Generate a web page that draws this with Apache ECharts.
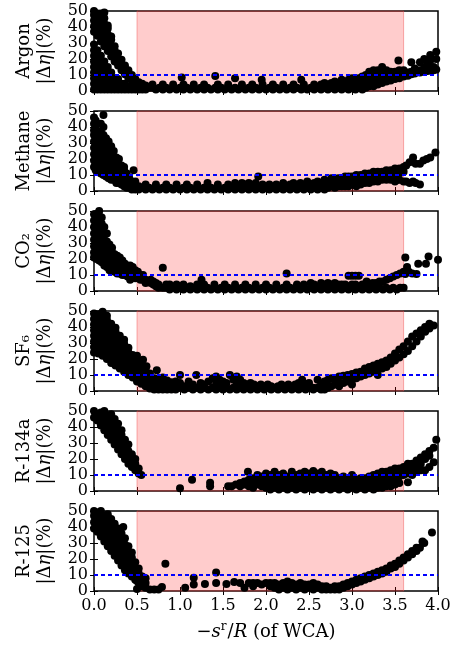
<!DOCTYPE html>
<html>
<head>
<meta charset="utf-8">
<title>|Δη| vs -s^r/R</title>
<script src="https://cdn.jsdelivr.net/npm/echarts@6/dist/echarts.min.js"></script>
<style>
  html, body { margin: 0; background: #fff; }
  #chart { width: 457px; height: 653px; }
</style>
</head>
<body>
<div id="chart"></div>
<script>
// panel names (top to bottom)
var gasNames = ['Argon', 'Methane', 'CO₂', 'SF₆', 'R-134a', 'R-125'];
var xMin = 0, xMax = 4, xStep = 0.5;
var yMin = 0, yMax = 50, yStep = 10;
var shadeFrom = 0.5, shadeTo = 3.6;   // pink band (WCA range)
var threshold = 10;                   // blue dashed line

// each row: [x, y1, y2, ...]  (|Δη| in %)
var argon = [
  [0.00, 1, 4.5, 8, 11.5, 15, 18.5, 22, 25.5, 29, 37, 40.5, 44, 47.5, 50],
  [0.04, 1, 4.5, 8, 11.5, 15, 18.5, 22, 25.5, 34.5, 38, 41.5, 45, 48.5],
  [0.08, 1, 4.5, 8, 11.5, 15, 18.5, 22, 31, 34.5, 38, 41.5, 45, 48.5],
  [0.12, 1, 4.5, 8, 11.5, 15, 18.5, 28, 31.5, 35, 38.5, 42, 45.5, 49],
  [0.16, 1, 4.5, 8, 11.5, 15, 25, 28.5, 32, 35.5, 39, 41],
  [0.20, 1, 4.5, 8, 11.5, 21.5, 25, 28.5, 32, 34],
  [0.24, 1, 4.5, 8, 18.5, 22, 25.5, 28],
  [0.28, 1, 4.5, 7.5, 16, 19.5, 23.5],
  [0.32, 1, 4.5, 13, 16.5, 19.5],
  [0.36, 1, 4.5, 10.5, 14, 16],
  [0.40, 1, 8, 11, 13], [0.44, 1, 4, 7, 10], [0.48, 1, 4, 7.5],
  [0.52, 1, 3.5, 5.5], [0.56, 1, 3, 4.5], [0.60, 1, 3.5],
  [0.64, 2], [0.68, 2, 4], [0.72, 1], [0.76, 2], [0.80, 1, 4], [0.84, 2], [0.88, 1],
  [0.92, 2, 4], [0.96, 1], [1.00, 2], [1.02, 8.5], [1.04, 1, 4], [1.08, 2], [1.12, 1],
  [1.16, 2, 4], [1.20, 1], [1.24, 2], [1.28, 1, 4], [1.32, 2], [1.36, 1], [1.41, 9.4, 2],
  [1.44, 1, 4], [1.48, 2], [1.52, 1], [1.56, 2, 4], [1.60, 1], [1.64, 2, 8], [1.68, 1],
  [1.72, 2, 4], [1.76, 1], [1.80, 2], [1.84, 1, 4], [1.88, 2], [1.92, 1], [1.95, 7],
  [1.96, 2, 4], [2.00, 1], [2.04, 2], [2.08, 1, 4], [2.12, 2], [2.16, 1], [2.20, 2, 4],
  [2.24, 1], [2.28, 2], [2.32, 1, 4], [2.36, 2], [2.41, 7, 1], [2.44, 2, 4], [2.48, 1],
  [2.52, 2], [2.56, 1, 4], [2.60, 2], [2.64, 1, 4], [2.68, 2, 5], [2.72, 1, 4], [2.76, 2, 5],
  [2.80, 1, 3, 6], [2.84, 2, 5], [2.88, 1, 4, 7], [2.92, 2, 5], [2.96, 1, 4, 7], [3.00, 2, 5, 8],
  [3.04, 1, 4, 7], [3.08, 2, 5, 8], [3.12, 1, 4, 7, 9], [3.16, 2, 5, 8, 10], [3.20, 3, 6, 9, 12],
  [3.25, 3, 5, 8, 11, 13], [3.30, 4, 7, 10, 13], [3.35, 5, 8, 11, 15], [3.40, 6, 8, 11, 13],
  [3.45, 6.5, 9, 12], [3.50, 7.5, 10, 12], [3.52, 12], [3.54, 19], [3.55, 8, 10.5, 13],
  [3.60, 9, 11, 13], [3.65, 9.5, 11.5], [3.69, 10.5, 12, 18], [3.73, 11, 14], [3.79, 11.5, 13, 18],
  [3.84, 12, 15, 20], [3.88, 12.5, 14, 17], [3.91, 13, 19, 22.5], [3.95, 13, 15], [3.98, 13.5, 20, 24.5]
];

var methane = [
  [0.00, 15, 19, 23, 27, 31, 35, 38, 42, 46], [0.02, 13, 17, 21, 25, 29, 33, 40, 44],
  [0.05, 12, 16, 20, 24, 30, 36], [0.08, 11, 15, 19, 23, 28, 33, 37, 42],
  [0.11, 10, 14, 18, 22, 27, 31, 35, 40, 47.5], [0.14, 9, 13, 17, 21, 25, 29, 33],
  [0.17, 8, 12, 16, 20, 24, 27, 31], [0.20, 7, 10, 14, 18, 22, 28], [0.23, 7, 11, 15, 19, 25],
  [0.26, 5, 9, 13, 17, 21], [0.29, 5, 8, 12, 16, 20], [0.32, 4, 7, 11, 16],
  [0.35, 3, 6, 9, 13, 15], [0.38, 2, 5, 8, 11], [0.41, 2, 5, 8], [0.44, 1, 4, 6],
  [0.46, 13], [0.48, 1, 3, 6],
  [0.52, 1, 3], [0.56, 2], [0.60, 1, 4], [0.64, 2], [0.68, 1], [0.72, 2, 4], [0.76, 1],
  [0.80, 2], [0.84, 1, 4], [0.88, 2], [0.92, 1], [0.96, 2, 4], [1.00, 1], [1.04, 2],
  [1.08, 1, 4], [1.12, 2], [1.16, 1], [1.20, 2, 4], [1.24, 1], [1.28, 2], [1.32, 1, 5],
  [1.36, 2], [1.40, 1], [1.44, 2, 4], [1.48, 1], [1.52, 2], [1.56, 1, 4], [1.60, 2],
  [1.64, 1, 5], [1.68, 2], [1.72, 1, 5], [1.76, 2, 4], [1.80, 1, 5], [1.84, 2], [1.88, 1, 5],
  [1.91, 9], [1.92, 2], [1.96, 1, 4], [2.00, 2], [2.04, 1, 4], [2.08, 2], [2.12, 1, 4],
  [2.16, 2], [2.20, 1, 5], [2.24, 2], [2.28, 1, 4], [2.32, 2, 5], [2.36, 1], [2.40, 2, 5],
  [2.44, 1, 4], [2.48, 2, 6], [2.52, 1, 4], [2.56, 2, 5], [2.60, 1, 4, 6], [2.64, 2, 5],
  [2.68, 1, 4, 7], [2.72, 2, 5], [2.76, 3, 6, 8], [2.80, 2, 5], [2.84, 3, 6, 8], [2.88, 3, 5, 8],
  [2.92, 3, 6, 9], [2.96, 3, 6, 9], [3.00, 4, 7, 9], [3.05, 3, 6, 10], [3.10, 4, 7, 10],
  [3.15, 5, 8, 11], [3.20, 5, 8, 11], [3.25, 6, 9, 12], [3.30, 6, 9, 12], [3.35, 7, 10, 12],
  [3.40, 7, 10, 13], [3.45, 7, 10, 13], [3.50, 6, 9, 12, 14], [3.53, 7], [3.55, 7, 11, 14],
  [3.60, 6, 12, 15], [3.63, 6, 16], [3.67, 5, 18], [3.71, 6, 21], [3.74, 5, 17], [3.79, 4, 17],
  [3.83, 19], [3.87, 20], [3.91, 21], [3.97, 24]
];

var co2 = [
  [0.00, 21, 24, 28, 32, 36, 40, 44, 48], [0.03, 20, 24, 28, 32, 36, 40, 44, 48],
  [0.06, 19, 23, 27, 31, 35, 39, 43, 47, 50], [0.09, 18, 22, 26, 30, 34, 38, 42, 46],
  [0.12, 16, 20, 24, 28, 32, 36, 40], [0.15, 15, 19, 23, 27, 31, 36], [0.18, 13, 17, 21, 25, 29],
  [0.21, 13, 16, 20, 24, 27], [0.24, 12, 15, 19, 23], [0.27, 11, 14, 18, 22], [0.30, 11, 14, 18, 21],
  [0.33, 10, 13, 16, 19], [0.36, 10, 13, 17], [0.39, 9, 12, 15], [0.42, 7, 11, 14, 16],
  [0.45, 9, 12, 15], [0.48, 8, 11, 13], [0.51, 8, 12], [0.54, 7, 10], [0.57, 7, 10],
  [0.60, 5, 7], [0.63, 6], [0.66, 5, 7], [0.69, 4, 6], [0.72, 3, 5], [0.75, 2, 4],
  [0.80, 2, 14.6], [0.84, 2, 4], [0.88, 1, 4], [0.92, 2], [0.96, 1, 4], [1.00, 2], [1.04, 1, 4],
  [1.08, 2], [1.12, 1, 3], [1.16, 2], [1.20, 1, 4], [1.25, 2, 7], [1.28, 1, 4], [1.32, 2],
  [1.36, 1], [1.40, 2, 4], [1.44, 1], [1.48, 2], [1.52, 1, 4], [1.56, 2], [1.60, 1], [1.64, 2, 4],
  [1.68, 1], [1.72, 2], [1.76, 1, 4], [1.80, 2], [1.84, 1], [1.88, 2, 4], [1.92, 1], [1.96, 2],
  [2.00, 1, 4], [2.04, 2], [2.08, 1], [2.12, 2, 4], [2.16, 1], [2.20, 2], [2.24, 1, 4, 11],
  [2.28, 2], [2.32, 1], [2.36, 2, 4], [2.40, 1], [2.44, 2, 4], [2.48, 1], [2.52, 2, 5],
  [2.56, 1, 4], [2.60, 2], [2.64, 1, 5], [2.68, 2, 4], [2.72, 1, 5], [2.76, 2, 4], [2.80, 1, 5],
  [2.84, 2, 4], [2.88, 1, 4], [2.92, 2, 4], [2.96, 1, 3, 9.6], [3.00, 2, 4, 9.5], [3.04, 1, 4, 9.5],
  [3.08, 2, 9.5], [3.12, 1, 4], [3.17, 2, 6], [3.20, 1, 4], [3.24, 2, 5], [3.28, 1, 5],
  [3.32, 2, 6], [3.36, 1, 6], [3.40, 2, 7], [3.44, 1, 8], [3.48, 2, 9], [3.52, 1, 10],
  [3.56, 2, 11], [3.60, 2, 12], [3.62, 10.6, 21], [3.64, 15], [3.66, 12], [3.70, 11],
  [3.75, 10.6], [3.77, 17], [3.86, 17], [3.89, 21.5], [4.00, 19.5]
];

var sf6 = [
  [0.00, 24, 27.5, 31, 34.5, 38, 41.5, 45, 48.5], [0.05, 23.5, 27, 30.5, 34, 37.5, 41, 44.5, 48],
  [0.10, 22, 25.5, 29, 32.5, 36, 39.5, 43, 46.5, 49.5], [0.15, 20, 23.5, 27, 30.5, 34, 37.5, 41, 44.5, 47],
  [0.20, 17.5, 21, 24.5, 28, 31.5, 35, 38.5, 42], [0.25, 16, 19.5, 23, 26.5, 30, 33.5, 37, 39.5],
  [0.30, 14, 17.5, 21, 24.5, 28, 31.5, 34.5], [0.35, 12, 15.5, 19, 22.5, 26, 29.5, 32],
  [0.40, 10, 13.5, 17, 20.5, 24, 27], [0.45, 8.5, 12, 15.5, 19, 22.5], [0.50, 6, 9.5, 13, 16.5, 19, 22],
  [0.55, 4.5, 8, 11.5, 15, 17], [0.57, 19.5], [0.60, 3, 6.5, 10, 13], [0.61, 15.5],
  [0.65, 1.5, 5, 8.5, 11], [0.70, 1, 4.5, 8], [0.73, 13], [0.75, 1, 4.5, 7.5], [0.80, 1, 4.5, 8.5],
  [0.85, 1, 4, 6.5], [0.90, 1, 3.5, 5.5],
  [0.95, 1, 3, 6], [1.00, 2, 5, 10], [1.05, 1, 3], [1.10, 2, 6], [1.15, 1, 4], [1.19, 2, 10],
  [1.24, 1, 5], [1.28, 2, 4], [1.33, 1, 6], [1.38, 2, 8], [1.42, 1, 5, 9], [1.46, 2, 7],
  [1.50, 1, 4, 6], [1.54, 2, 5], [1.58, 1, 10], [1.62, 2, 7], [1.66, 1, 4, 9], [1.70, 2, 7],
  [1.74, 1, 5], [1.78, 2, 4], [1.82, 1, 5], [1.86, 2, 4], [1.90, 1, 3], [1.94, 2, 4], [1.98, 1, 3],
  [2.02, 2, 4], [2.06, 1, 3], [2.10, 2], [2.14, 1, 3], [2.18, 2, 4], [2.22, 1], [2.26, 2, 4],
  [2.30, 1], [2.34, 2, 4], [2.38, 1, 5], [2.42, 2, 7], [2.46, 1, 4], [2.50, 2, 5], [2.55, 1, 2],
  [2.60, 2, 7], [2.64, 1, 4], [2.68, 1, 6],
  [2.72, 2, 3, 7], [2.76, 3, 8], [2.80, 4, 8], [2.85, 3, 5, 9], [2.90, 5, 9.5], [2.95, 6, 10],
  [3.00, 4, 7, 10.6], [3.05, 8, 11.5], [3.10, 9, 12], [3.15, 10, 14], [3.20, 11, 15],
  [3.25, 12, 16], [3.30, 10, 13, 17], [3.35, 14, 18], [3.40, 15, 19], [3.45, 17, 21],
  [3.50, 19, 23.5], [3.55, 21, 26], [3.60, 23, 28], [3.65, 25, 31], [3.70, 28, 34],
  [3.75, 31, 36], [3.80, 34, 38], [3.85, 37, 40], [3.90, 39, 42], [3.95, 41]
];

var r134a = [
  [0.00, 46, 50], [0.04, 44, 48], [0.08, 41, 45, 49], [0.12, 38, 42, 46, 50],
  [0.16, 35, 39, 43, 47], [0.20, 32, 36, 40, 44, 48], [0.24, 29, 33, 37, 41, 45],
  [0.28, 26, 30, 34, 38, 42], [0.32, 23, 27, 31, 35, 38], [0.36, 20, 24, 28, 32],
  [0.40, 17, 21, 25, 29], [0.44, 15, 19, 23], [0.48, 13, 17, 20], [0.52, 11, 14], [0.55, 10],
  [1.00, 1.7], [1.14, 7], [1.35, 3, 5.2], [1.56, 3],
  [1.60, 3], [1.65, 4], [1.70, 3, 5], [1.75, 4, 6], [1.79, 12], [1.80, 3, 7], [1.85, 2, 5, 8],
  [1.90, 4, 7, 10], [1.95, 3, 6, 9], [2.00, 2, 5, 8, 11], [2.05, 1, 4, 7, 10], [2.10, 2, 5, 8, 12],
  [2.15, 1, 4, 7, 10], [2.20, 2, 5, 9, 11], [2.25, 1, 3, 6, 9], [2.30, 2, 5, 8, 12],
  [2.35, 1, 4, 7, 10], [2.40, 2, 5, 8, 11], [2.45, 1, 3, 6, 9, 12], [2.50, 2, 5, 8, 11],
  [2.55, 1, 4, 7, 12.5], [2.60, 2, 5, 8, 11], [2.65, 1, 3, 6, 9, 12], [2.70, 2, 4, 7, 10],
  [2.75, 1, 3, 6, 9, 11], [2.80, 2, 4, 7, 10], [2.85, 1, 3, 5, 8], [2.90, 2, 4, 6, 9],
  [2.95, 1, 3, 5, 8], [3.00, 2, 4, 6, 10], [3.05, 1, 3, 5, 7], [3.10, 2, 4, 6, 8],
  [3.15, 1, 3, 5, 8], [3.20, 2, 4, 6, 9], [3.25, 1, 3, 6, 10], [3.30, 2, 4, 7, 11],
  [3.35, 2, 5, 8, 10, 12], [3.40, 3, 6, 9, 12], [3.45, 3, 7, 10, 13], [3.50, 4, 8, 11, 14],
  [3.55, 5, 9, 12, 14], [3.60, 10, 13, 15], [3.65, 5.5, 11, 15, 17], [3.70, 10, 13, 17],
  [3.75, 12, 16, 19], [3.80, 13, 17, 21], [3.85, 13, 20, 23], [3.90, 15, 22, 25],
  [3.95, 18, 27], [3.98, 32]
];

var r125 = [
  [0.00, 39, 43, 47, 50], [0.04, 37, 41, 45, 49], [0.08, 34, 38, 42, 46, 50],
  [0.12, 31, 35, 39, 43, 47], [0.16, 28, 32, 36, 40, 44, 48], [0.20, 25, 29, 33, 37, 41, 45],
  [0.24, 22, 26, 30, 34, 38, 40, 42], [0.28, 19, 23, 27, 31, 35, 39], [0.32, 16, 20, 24, 28, 32, 36],
  [0.34, 40], [0.36, 13, 17, 21, 25, 29, 33], [0.40, 11, 15, 19, 23, 28], [0.44, 9, 13, 17, 21, 24],
  [0.48, 7, 10, 14, 18], [0.50, 1.2, 6.2], [0.52, 5, 8, 11, 14], [0.56, 3, 6, 9], [0.60, 2, 5, 8],
  [0.65, 1], [0.70, 1], [0.75, 1], [0.79, 2.5], [0.83, 17],
  [1.06, 2], [1.16, 4, 8.3], [1.29, 4.4], [1.42, 5, 11.5], [1.54, 4.4], [1.63, 5.6], [1.70, 5],
  [1.75, 2], [1.80, 5], [1.85, 3, 5], [1.90, 5], [1.95, 4], [2.00, 5], [2.05, 3, 5], [2.10, 2, 5],
  [2.15, 1, 4], [2.20, 2, 5], [2.25, 1, 4, 6], [2.30, 2, 5], [2.35, 1, 4], [2.40, 2, 5],
  [2.45, 1, 4], [2.50, 2, 4], [2.55, 1, 3, 5], [2.60, 2, 4], [2.65, 1, 3], [2.70, 1, 3],
  [2.75, 1, 2], [2.80, 1, 3], [2.85, 1, 3], [2.90, 2, 4], [2.95, 3, 5], [3.00, 4, 6], [3.05, 5, 7],
  [3.10, 6, 8], [3.15, 7, 9], [3.20, 8, 10], [3.25, 9, 11], [3.30, 10, 12], [3.35, 11, 13],
  [3.40, 12, 14], [3.45, 14, 16], [3.50, 15, 17], [3.55, 17, 19], [3.60, 19, 21], [3.65, 21, 23],
  [3.70, 23, 25], [3.75, 25, 27], [3.79, 27], [3.82, 31], [3.84, 30], [3.93, 36.5]
];

var panels = [argon, methane, co2, sf6, r134a, r125];

function toPoints(rows) {
  var pts = [];
  rows.forEach(function (r) {
    for (var k = 1; k < r.length; k++) pts.push([r[0], r[k]]);
  });
  return pts;
}

var serif = 'DejaVu Serif';
var tick = { inside: true, length: 4, lineStyle: { color: '#000', width: 1 } };
var grids = [], xAxes = [], yAxes = [], series = [];

panels.forEach(function (rows, i) {
  var last = i === panels.length - 1;
  grids.push({
    left: 94, width: 344, top: 11 + 100 * i, height: 80,
    show: true, borderColor: '#000', borderWidth: 1.5, backgroundColor: 'transparent'
  });
  xAxes.push({
    gridIndex: i, type: 'value', position: 'bottom', min: xMin, max: xMax, interval: xStep,
    axisLine: { show: false }, splitLine: { show: false }, axisTick: tick,
    axisLabel: {
      show: last, margin: 7, color: '#000', fontFamily: serif, fontSize: 16,
      formatter: function (v) { return v.toFixed(1); }
    },
    name: last ? '−{i|s}{sup|r}/{i|R} (of WCA)' : '',
    nameLocation: 'middle', nameGap: 30,
    nameTextStyle: {
      color: '#000', fontFamily: serif, fontSize: 18,
      rich: {
        i: { fontFamily: serif, fontSize: 18, fontStyle: 'italic', color: '#000' },
        sup: { fontFamily: serif, fontSize: 12, color: '#000', padding: [0, 1, 10, 0] }
      }
    }
  });
  xAxes.push({
    gridIndex: i, type: 'value', position: 'top', min: xMin, max: xMax, interval: xStep,
    axisLine: { show: false }, splitLine: { show: false }, axisTick: tick, axisLabel: { show: false }
  });
  yAxes.push({
    gridIndex: i, type: 'value', position: 'left', min: yMin, max: yMax, interval: yStep,
    axisLine: { show: false }, splitLine: { show: false }, axisTick: tick,
    axisLabel: { margin: 6, color: '#000', fontFamily: serif, fontSize: 16 },
    name: gasNames[i] + '\n|Δ{i|η}|(%)',
    nameLocation: 'middle', nameRotate: 90, nameGap: 38,
    nameTextStyle: {
      color: '#000', fontFamily: serif, fontSize: 18, lineHeight: 21,
      rich: { i: { fontFamily: serif, fontSize: 18, fontStyle: 'italic', lineHeight: 21, color: '#000' } }
    }
  });
  yAxes.push({
    gridIndex: i, type: 'value', position: 'right', min: yMin, max: yMax, interval: yStep,
    axisLine: { show: false }, splitLine: { show: false }, axisTick: tick, axisLabel: { show: false }
  });
  series.push({
    type: 'scatter', xAxisIndex: 2 * i, yAxisIndex: 2 * i,
    data: toPoints(rows), symbol: 'circle', symbolSize: 8,
    itemStyle: { color: '#000', opacity: 1 },
    markArea: {
      silent: true,
      itemStyle: { color: 'rgba(255,0,0,0.2)', borderColor: 'rgba(240,80,80,0.45)', borderWidth: 1 },
      data: [[{ xAxis: shadeFrom }, { xAxis: shadeTo }]]
    },
    markLine: {
      silent: true, symbol: 'none', label: { show: false },
      lineStyle: { color: '#0000ff', width: 2, type: [4, 3] },
      data: [{ yAxis: threshold }]
    }
  });
});

var chart = echarts.init(document.getElementById('chart'));
chart.setOption({
  animation: false,
  backgroundColor: '#fff',
  grid: grids,
  xAxis: xAxes,
  yAxis: yAxes,
  series: series
});
</script>
</body>
</html>
